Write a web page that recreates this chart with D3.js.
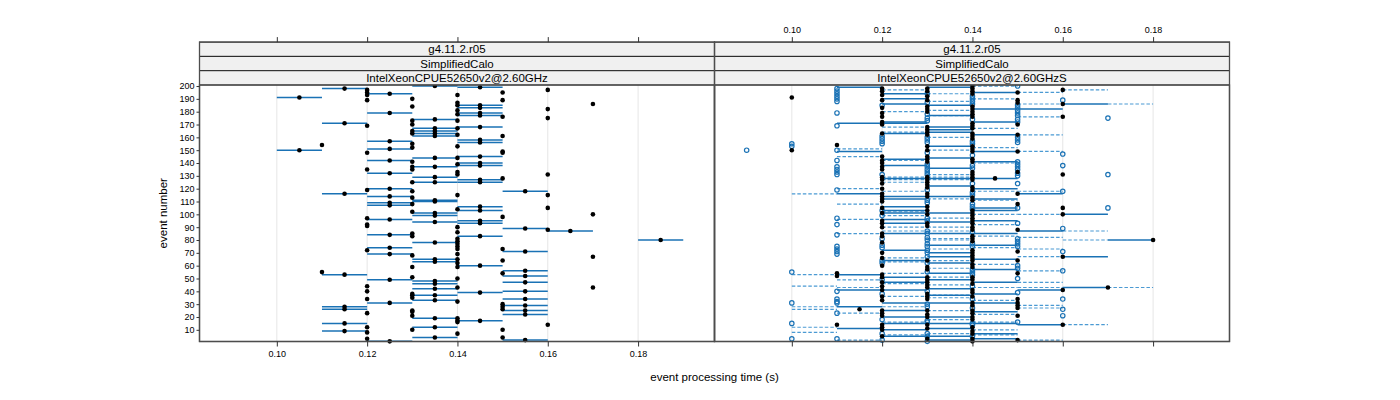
<!DOCTYPE html>
<html><head><meta charset="utf-8">
<script src="https://cdn.jsdelivr.net/npm/d3@7"></script>
<style>
body{margin:0;background:#fff}
svg{display:block}
text{font-family:"Liberation Sans",Arial,Helvetica,sans-serif;fill:#000}
</style>
</head><body><svg id="c" width="1400" height="400"></svg>
<script>
// ---------- labels ----------
const stripRow1 = ["g4.11.2.r05", "g4.11.2.r05"];
const stripRow2 = ["SimplifiedCalo", "SimplifiedCalo"];
const stripRow3 = ["IntelXeonCPUE52650v2@2.60GHz", "IntelXeonCPUE52650v2@2.60GHzS"];
const xTicks = [0.10, 0.12, 0.14, 0.16, 0.18];
const yTicks = [10, 20, 30, 40, 50, 60, 70, 80, 90, 100, 110, 120, 130, 140, 150, 160, 170, 180, 190, 200];
const xTitle = "event processing time (s)";
const yTitle = "event number";

// ---------- panel 1: value, range [lo,hi], events ----------
const p1Times = [0.105, 0.11, 0.115, 0.12, 0.125, 0.13, 0.135, 0.14, 0.145, 0.15, 0.155, 0.16, 0.165, 0.17, 0.185];
const p1Lo    = [0.10, 0.11, 0.11, 0.12, 0.12, 0.13, 0.13, 0.14, 0.14, 0.15, 0.15, 0.16, 0.16, 0.17, 0.18];
const p1Hi    = [0.11, 0.11, 0.12, 0.12, 0.13, 0.13, 0.14, 0.14, 0.15, 0.15, 0.16, 0.16, 0.17, 0.17, 0.19];
const p1Events = [
  [191, 150],
  [154, 55],
  [198, 171, 116, 53, 28, 26, 15, 9],
  [197, 195, 193, 189, 169, 148, 135, 119, 97, 92, 91, 72, 44, 40, 34, 23, 12, 8, 3],
  [194, 179, 157, 151, 142, 132, 120, 114, 109, 107, 96, 84, 74, 69, 49, 31, 1],
  [190, 184, 173, 170, 165, 163, 155, 152, 141, 137, 135, 125, 118, 113, 108, 102, 85, 83, 68, 59, 51, 38, 37, 35, 25, 24, 21, 10],
  [200, 174, 167, 165, 163, 161, 144, 137, 129, 125, 111, 110, 101, 99, 94, 78, 65, 63, 48, 46, 42, 37, 33, 19, 12, 4],
  [193, 187, 185, 181, 178, 173, 167, 162, 153, 144, 139, 133, 131, 115, 104, 90, 86, 81, 79, 77, 75, 73, 69, 65, 62, 59, 50, 43, 32, 19, 17, 16, 7],
  [199, 185, 183, 179, 177, 168, 158, 156, 145, 140, 138, 127, 125, 106, 103, 95, 93, 83, 60, 39, 17],
  [195, 189, 176, 161, 149, 148, 128, 98, 73, 64, 54, 30, 28, 26, 10, 4],
  [118, 89, 71, 56, 52, 47, 40, 34, 29, 25, 22, 2],
  [197, 182, 175, 131, 115, 105, 88, 14],
  [87],
  [186, 100, 67, 43],
  [80]
];

// ---------- panel 2 ----------
// filled black points
const p2DotTimes = [0.10, 0.11, 0.115, 0.12, 0.13, 0.14, 0.145, 0.15, 0.16, 0.17, 0.18];
const p2DotEvents = [
  [191, 150],
  [154, 54, 52, 14],
  [26],
  [198, 196, 193, 189, 183, 179, 176, 172, 170, 163, 145, 142, 140, 137, 135, 129, 127, 124, 120, 116, 114, 112, 110, 105, 101, 95, 93, 90, 85, 83, 78, 70, 66, 60, 53, 51, 47, 44, 41, 36, 33, 25, 23, 21, 14, 12, 10, 5],
  [198, 196, 192, 189, 184, 182, 180, 168, 166, 164, 162, 153, 150, 145, 143, 141, 129, 127, 125, 123, 121, 116, 114, 106, 103, 100, 93, 91, 64, 59, 57, 51, 49, 47, 45, 43, 38, 36, 34, 25, 22, 20, 14, 11, 3],
  [200, 198, 196, 194, 184, 182, 180, 178, 176, 171, 169, 167, 163, 161, 159, 153, 151, 149, 143, 141, 133, 131, 129, 127, 121, 119, 113, 111, 103, 101, 99, 97, 95, 93, 90, 88, 83, 81, 79, 72, 70, 68, 66, 64, 61, 59, 51, 49, 46, 41, 39, 36, 31, 29, 25, 23, 20, 18, 12, 9, 7, 3, 1],
  [128],
  [195, 189, 187, 170, 162, 149, 133, 116, 108, 88, 71, 64, 54, 34, 31, 29, 27, 21, 2],
  [197, 186, 176, 131, 105, 100, 67, 41, 14],
  [43],
  [80]
];
// open blue circles
const p2CircleTimes = [0.09, 0.10, 0.11, 0.12, 0.13, 0.14, 0.15, 0.16, 0.17];
const p2CircleEvents = [
  [150],
  [155, 153, 55, 31, 15, 3],
  [198, 196, 194, 192, 190, 188, 179, 169, 150, 142, 137, 135, 133, 131, 119, 97, 92, 84, 75, 73, 71, 69, 40, 34, 32, 31, 23, 3],
  [185, 161, 159, 157, 155, 131, 103, 99, 81, 76, 74, 64, 62, 49, 38, 18, 7, 2],
  [194, 187, 178, 175, 173, 160, 158, 156, 148, 139, 137, 135, 133, 131, 119, 111, 109, 97, 95, 87, 85, 82, 80, 77, 75, 72, 70, 67, 62, 55, 40, 30, 28, 17, 16, 7, 5, 1],
  [192, 190, 188, 186, 174, 157, 155, 146, 138, 136, 124, 117, 115, 108, 106, 104, 86, 77, 75, 57, 55, 53, 44, 34, 27, 15, 14, 5],
  [200, 185, 183, 181, 179, 177, 174, 172, 160, 158, 156, 141, 139, 137, 135, 132, 130, 124, 105, 93, 81, 79, 77, 75, 60, 58, 50, 39, 16],
  [189, 147, 138, 118, 89, 71, 56, 34, 26, 21],
  [175, 131, 105]
];
// solid ranges
const p2SolidLo = [0.11, 0.12, 0.13, 0.14, 0.14, 0.15, 0.16, 0.17];
const p2SolidHi = [0.12, 0.13, 0.14, 0.15, 0.16, 0.16, 0.17, 0.18];
const p2SolidEvents = [
  [199, 171, 149, 116, 53, 41, 28, 11],
  [194, 190, 186, 172, 171, 163, 143, 138, 128, 114, 112, 106, 103, 101, 96, 93, 85, 72, 64, 51, 47, 41, 31, 25, 20, 15, 10, 5],
  [199, 185, 177, 168, 166, 164, 153, 144, 136, 128, 122, 114, 101, 94, 85, 76, 70, 67, 62, 54, 49, 42, 37, 31, 20, 15, 11, 5, 2],
  [195, 172, 162, 149, 141, 128, 120, 112, 105, 103, 95, 85, 76, 65, 57, 47, 38, 31, 24, 15, 7, 3],
  [182],
  [116, 87, 41, 14],
  [186, 100, 67, 43],
  [80]
];
// dashed ranges
const p2DashLo = [0.10, 0.11, 0.12, 0.13, 0.14, 0.15, 0.16, 0.17];
const p2DashHi = [0.11, 0.12, 0.13, 0.14, 0.15, 0.16, 0.17, 0.18];
const p2DashEvents = [
  [116, 53, 44, 28, 26, 12, 8],
  [151, 145, 120, 108, 96, 85, 49, 43, 23, 2],
  [197, 180, 168, 164, 142, 129, 127, 125, 118, 102, 99, 90, 87, 66, 63, 54, 46, 36, 28, 16, 6],
  [194, 188, 181, 177, 160, 150, 131, 129, 127, 112, 97, 90, 87, 81, 80, 73, 64, 58, 51, 45, 37, 35, 25, 18, 7],
  [200, 190, 167, 152, 140, 118, 111, 100, 92, 83, 74, 61, 43, 33, 22, 16, 10, 6],
  [195, 186, 176, 162, 149, 118, 100, 82, 73, 67, 56, 47, 43, 29, 27, 2],
  [197, 87, 80, 14],
  [186, 43]
];

// ---------- layout ----------
const svg = d3.select("#c");
const plotTop = 85, plotBottom = 341.5;
const panels = [{x0: 199.5, x1: 714.5}, {x0: 714.5, x1: 1229.5}];
const xDomain = [0.08288, 0.19692];
const y = d3.scaleLinear().domain([0.9, 200.8]).range([plotBottom, plotTop]);
const xs = panels.map(p => d3.scaleLinear().domain(xDomain).range([p.x0, p.x1]));

const solidCol = "#1a72b5";
const dashCol = "#4b9ad3";
const frameCol = "#4d4d4d";

// gridlines
panels.forEach((p, i) => {
  svg.append("g").selectAll("line").data(xTicks).join("line")
    .attr("x1", d => xs[i](d)).attr("x2", d => xs[i](d))
    .attr("y1", plotTop).attr("y2", plotBottom)
    .attr("stroke", "#e6e6e6").attr("stroke-width", 1);
});

function flatten(los, his, evs) {
  const out = [];
  evs.forEach((list, k) => list.forEach(e => out.push({e, lo: los[k], hi: his[k]})));
  return out;
}
function flatPts(times, evs) {
  const out = [];
  evs.forEach((list, k) => list.forEach(e => out.push({e, t: times[k]})));
  return out;
}

// ----- panel 1 -----
const g1 = svg.append("g");
const p1Segs = flatten(p1Lo, p1Hi, p1Events).filter(d => d.hi > d.lo);
g1.append("g").selectAll("line").data(p1Segs).join("line")
  .attr("x1", d => xs[0](d.lo)).attr("x2", d => xs[0](d.hi))
  .attr("y1", d => y(d.e)).attr("y2", d => y(d.e))
  .attr("stroke", solidCol).attr("stroke-width", 1.5);
g1.append("g").selectAll("circle").data(flatPts(p1Times, p1Events)).join("circle")
  .attr("cx", d => xs[0](d.t)).attr("cy", d => y(d.e)).attr("r", 2.3)
  .attr("fill", "#000");

// ----- panel 2 -----
const g2 = svg.append("g");
g2.append("g").selectAll("line").data(flatten(p2DashLo, p2DashHi, p2DashEvents)).join("line")
  .attr("x1", d => xs[1](d.lo)).attr("x2", d => xs[1](d.hi))
  .attr("y1", d => y(d.e)).attr("y2", d => y(d.e))
  .attr("stroke", dashCol).attr("stroke-width", 1.2).attr("stroke-dasharray", "3.5,2");
g2.append("g").selectAll("line").data(flatten(p2SolidLo, p2SolidHi, p2SolidEvents)).join("line")
  .attr("x1", d => xs[1](d.lo)).attr("x2", d => xs[1](d.hi))
  .attr("y1", d => y(d.e)).attr("y2", d => y(d.e))
  .attr("stroke", solidCol).attr("stroke-width", 1.5);
g2.append("g").selectAll("circle").data(flatPts(p2CircleTimes, p2CircleEvents)).join("circle")
  .attr("cx", d => xs[1](d.t)).attr("cy", d => y(d.e)).attr("r", 2.2)
  .attr("fill", "none").attr("stroke", solidCol).attr("stroke-width", 1.2);
g2.append("g").selectAll("circle").data(flatPts(p2DotTimes, p2DotEvents)).join("circle")
  .attr("cx", d => xs[1](d.t)).attr("cy", d => y(d.e)).attr("r", 2.3)
  .attr("fill", "#000");

// strips
const stripH = 14.3;
const rows = [stripRow1, stripRow2, stripRow3];
panels.forEach((p, i) => {
  rows.forEach((r, k) => {
    const y0 = plotTop - (3 - k) * stripH;
    svg.append("rect").attr("x", p.x0).attr("y", y0).attr("width", p.x1 - p.x0).attr("height", stripH)
      .attr("fill", "#f0f0f0").attr("stroke", "#222").attr("stroke-width", 1);
    svg.append("text").attr("x", (p.x0 + p.x1) / 2).attr("y", y0 + stripH / 2 + 4)
      .attr("text-anchor", "middle").style("font-size", "11.5px").text(r[i]);
  });
});
// frames of strips+panel
panels.forEach(p => {
  svg.append("rect").attr("x", p.x0).attr("y", plotTop).attr("width", p.x1 - p.x0).attr("height", plotBottom - plotTop)
    .attr("fill", "none").attr("stroke", frameCol).attr("stroke-width", 1.3);
  svg.append("rect").attr("x", p.x0).attr("y", plotTop - 3 * stripH).attr("width", p.x1 - p.x0).attr("height", plotBottom - plotTop + 3 * stripH)
    .attr("fill", "none").attr("stroke", frameCol).attr("stroke-width", 1.3);
});

// axes
function styleAxis(g) {
  g.select(".domain").remove();
  g.selectAll(".tick line").attr("stroke", "#333").attr("stroke-width", 1);
  g.selectAll(".tick text").style("font-size", "9px").attr("fill", "#000")
    .style("font-family", "'Liberation Sans',Arial,sans-serif");
}
const fmt = d3.format(".2f");
svg.append("g").attr("transform", `translate(0,${plotBottom})`)
  .call(d3.axisBottom(xs[0]).tickValues(xTicks).tickFormat(fmt).tickSize(5).tickPadding(4)).call(styleAxis);
svg.append("g").attr("transform", `translate(0,${plotBottom})`)
  .call(d3.axisBottom(xs[1]).tickValues(xTicks).tickFormat("").tickSize(5)).call(styleAxis);
const stripTop = plotTop - 3 * stripH;
svg.append("g").attr("transform", `translate(0,${stripTop})`)
  .call(d3.axisTop(xs[0]).tickValues(xTicks).tickFormat("").tickSize(5)).call(styleAxis);
svg.append("g").attr("transform", `translate(0,${stripTop})`)
  .call(d3.axisTop(xs[1]).tickValues(xTicks).tickFormat(fmt).tickSize(5).tickPadding(4)).call(styleAxis);
svg.append("g").attr("transform", `translate(${panels[0].x0},0)`)
  .call(d3.axisLeft(y).tickValues(yTicks).tickSize(3).tickPadding(2)).call(styleAxis);

// titles
svg.append("text").attr("x", 714.5).attr("y", 381).attr("text-anchor", "middle")
  .style("font-size", "11.5px").text(xTitle);
svg.append("text").attr("transform", `translate(167,${(plotTop + plotBottom) / 2}) rotate(-90)`)
  .attr("text-anchor", "middle").style("font-size", "11.5px").text(yTitle);
</script>
</body></html>
